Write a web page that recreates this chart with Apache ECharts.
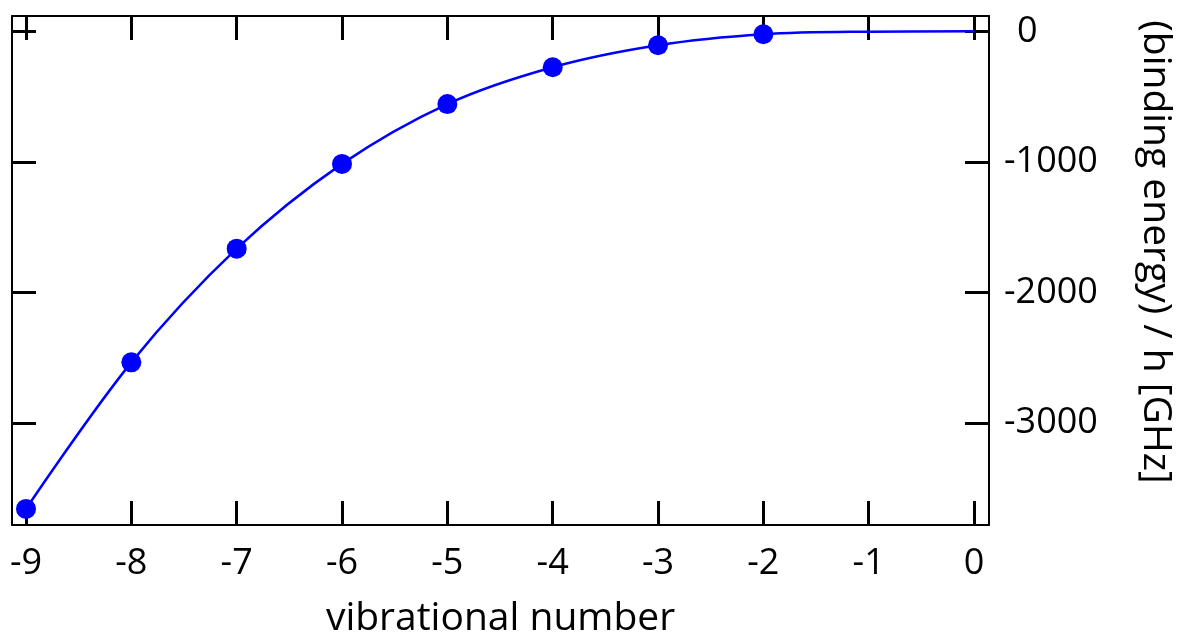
<!DOCTYPE html>
<html>
<head>
<meta charset="utf-8">
<script src="https://cdn.jsdelivr.net/npm/echarts@6/dist/echarts.min.js"></script>
<style>
  html, body { margin: 0; padding: 0; background: #fff; }
  #chart { width: 1188px; height: 643px; }
</style>
</head>
<body>
<div id="chart"></div>
<script>
// Vibrational levels and their binding energies (GHz)
const levels = [-9, -8, -7, -6, -5, -4, -3, -2];
const energies = [-3656, -2534, -1664, -1015, -557, -275, -107, -23];

// Fitted curve: measured points plus the tail toward the dissociation limit
const curveLevels = [-9, -8, -7, -6, -5, -4, -3, -2, -1, 0];
const curveEnergies = [-3656, -2534, -1664, -1015, -557, -275, -107, -23, -3, 0];

const xTicks = [-9, -8, -7, -6, -5, -4, -3, -2, -1, 0];
const yTicks = [0, -1000, -2000, -3000];

const xRange = [-9.133, 0.142];
const yRange = [-3779, 117];

const FONT = 'Open Sans';

const chart = echarts.init(document.getElementById('chart'));

const frameLine = { show: true, onZero: false, lineStyle: { color: '#000', width: 2 } };
const tickStyle = (vals) => ({
  show: true, inside: true, length: 24, customValues: vals,
  lineStyle: { color: '#000', width: 3 }
});

chart.setOption({
  animation: false,
  grid: { left: 12, right: 199, top: 16, bottom: 117, containLabel: false },
  xAxis: [
    {
      type: 'value', position: 'bottom', min: xRange[0], max: xRange[1],
      axisLine: frameLine, axisTick: tickStyle(xTicks), splitLine: { show: false },
      axisLabel: {
        show: true, customValues: xTicks, margin: 21,
        fontFamily: FONT, fontSize: 36, color: '#000',
        formatter: v => String(v)
      },
      name: 'vibrational number', nameLocation: 'middle', nameGap: 74,
      nameTextStyle: { fontFamily: FONT, fontSize: 39, color: '#000' }
    },
    {
      type: 'value', position: 'top', min: xRange[0], max: xRange[1],
      axisLine: frameLine, axisTick: tickStyle(xTicks), splitLine: { show: false },
      axisLabel: { show: false }
    }
  ],
  yAxis: [
    {
      type: 'value', position: 'right', min: yRange[0], max: yRange[1],
      axisLine: frameLine, axisTick: tickStyle(yTicks), splitLine: { show: false },
      axisLabel: {
        show: true, customValues: yTicks, margin: 15, align: 'left',
        fontFamily: FONT, fontSize: 36, color: '#000',
        formatter: v => (v === 0 ? '{z|0}' : String(v)),
        rich: { z: { fontFamily: FONT, fontSize: 36, color: '#000', padding: [0, 0, 0, 13] } }
      }
    },
    {
      type: 'value', position: 'left', min: yRange[0], max: yRange[1],
      axisLine: frameLine, axisTick: tickStyle(yTicks), splitLine: { show: false },
      axisLabel: { show: false }
    }
  ],
  graphic: [
    {
      type: 'text', x: 1155, y: 252, rotation: -Math.PI / 2,
      style: {
        text: '(binding energy) / h [GHz]', fontFamily: FONT, fontSize: 39,
        fill: '#000', align: 'center', verticalAlign: 'middle'
      }
    }
  ],
  series: [
    {
      type: 'line', xAxisIndex: 0, yAxisIndex: 0,
      data: curveLevels.map((x, i) => [x, curveEnergies[i]]),
      smooth: 0.35, showSymbol: false, symbol: 'none',
      lineStyle: { color: '#0000ff', width: 2.5 }, z: 2
    },
    {
      type: 'scatter', xAxisIndex: 0, yAxisIndex: 0,
      data: levels.map((x, i) => [x, energies[i]]),
      symbol: 'circle', symbolSize: 20,
      itemStyle: { color: '#0000ff', opacity: 1 }, z: 3
    }
  ]
});
</script>
</body>
</html>
